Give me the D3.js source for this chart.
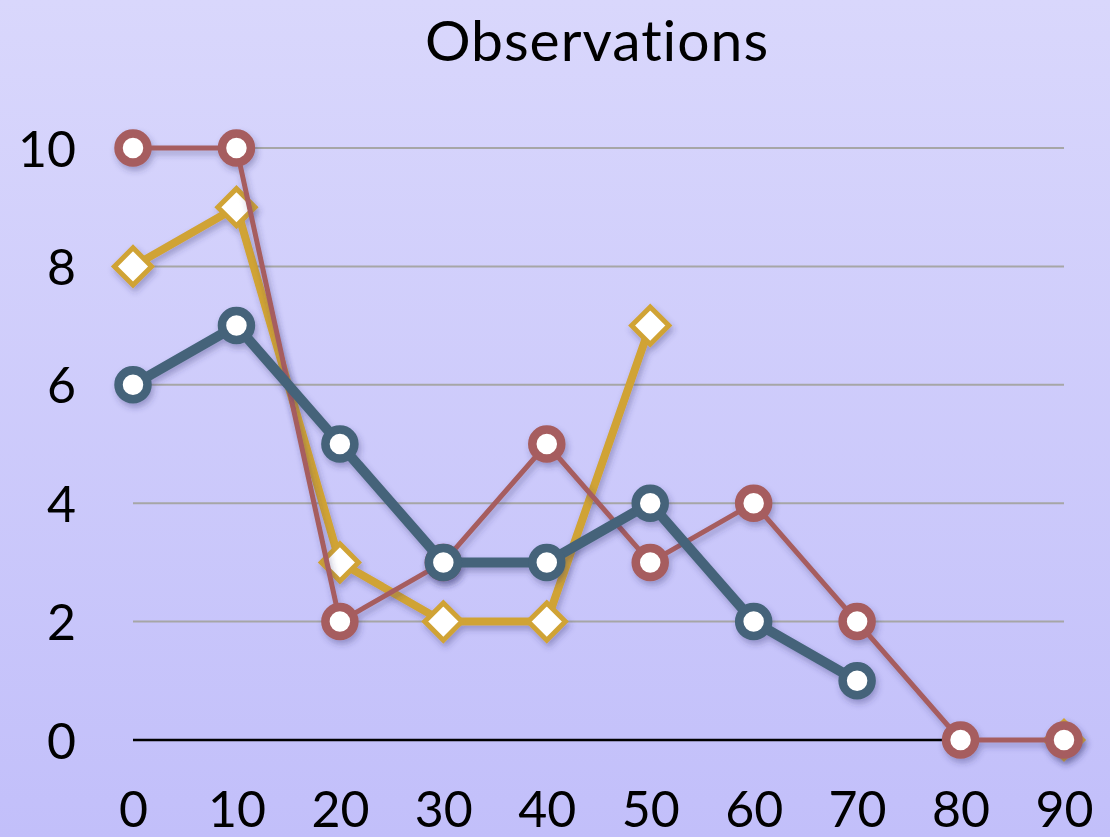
<!DOCTYPE html>
<html>
<head>
<meta charset="utf-8">
<script src="https://cdn.jsdelivr.net/npm/d3@7/dist/d3.min.js"></script>
<style>
  html, body { margin: 0; padding: 0; }
  body { width: 1110px; height: 837px; overflow: hidden; }
  text { font-family: "Lato", "Open Sans", sans-serif; fill: #000; }
</style>
</head>
<body>
<svg id="chart" width="1110" height="837"></svg>
<script>
// Observation counts sampled every 10 units
const categories = [0, 10, 20, 30, 40, 50, 60, 70, 80, 90];
const redSeries    = [10, 10, 2, 3, 5, 3, 4, 2, 0, 0];
const blueSeries   = [6, 7, 5, 3, 3, 4, 2, 1, null, null];
const yellowSeries = [8, 9, 3, 2, 2, 7, null, null, null, 0];
const yTicks = [0, 2, 4, 6, 8, 10];
const xTicks = categories;

const svg = d3.select("#chart");
const W = 1110, H = 837;

// Background gradient
const defs = svg.append("defs");
const grad = defs.append("linearGradient").attr("id", "bg")
  .attr("x1", 0).attr("y1", 0).attr("x2", 0).attr("y2", 1);
grad.append("stop").attr("offset", "0%").attr("stop-color", "#d9d7fc");
grad.append("stop").attr("offset", "100%").attr("stop-color", "#c2bffa");
svg.append("rect").attr("width", W).attr("height", H).attr("fill", "url(#bg)");

// Soft drop shadow for lines and markers
const f = defs.append("filter").attr("id", "shadow")
  .attr("x", "-20%").attr("y", "-20%").attr("width", "140%").attr("height", "140%");
f.append("feDropShadow").attr("dx", 2).attr("dy", 4).attr("stdDeviation", 3)
  .attr("flood-color", "#303070").attr("flood-opacity", 0.35);

const x = d3.scaleLinear().domain([0, 90]).range([133, 1064]);
const y = d3.scaleLinear().domain([0, 10]).range([740, 148]);

// Horizontal grid lines
svg.append("g").selectAll("line")
  .data(yTicks.filter(d => d > 0))
  .join("line")
  .attr("x1", x(0)).attr("x2", x(90))
  .attr("y1", d => y(d)).attr("y2", d => y(d))
  .attr("stroke", "#a6a6a6").attr("stroke-width", 2);

// Zero baseline
svg.append("line")
  .attr("x1", x(0)).attr("x2", x(80))
  .attr("y1", y(0)).attr("y2", y(0))
  .attr("stroke", "#000").attr("stroke-width", 2.5);

// Y axis labels
const yAxis = d3.axisLeft(y).tickValues(yTicks).tickSize(0).tickPadding(0);
const gy = svg.append("g").attr("transform", "translate(76,0)").call(yAxis);
gy.select(".domain").remove();
gy.selectAll("text").style("font-size", "50px").attr("dy", "0.36em")
  .style("font-family", "Lato, sans-serif");

// X axis labels
const xAxis = d3.axisBottom(x).tickValues(xTicks).tickSize(0).tickPadding(0);
const gx = svg.append("g").attr("transform", "translate(0,791)").call(xAxis);
gx.select(".domain").remove();
gx.selectAll("text").style("font-size", "50px").attr("dy", "0.72em")
  .style("font-family", "Lato, sans-serif");

// Title
svg.append("text").attr("x", 597).attr("y", 61).attr("text-anchor", "middle")
  .style("font-size", "57px").style("letter-spacing", "1px").text("Observations");

const series = [
  { values: yellowSeries, color: "#d0a334", width: 8, marker: "diamond" },
  { values: redSeries,    color: "#a65d5e", width: 5, marker: "circle" },
  { values: blueSeries,   color: "#44637a", width: 10, marker: "circle" }
];

const line = d3.line()
  .defined(d => d.v !== null)
  .x(d => x(d.c)).y(d => y(d.v));

series.forEach(s => {
  const pts = categories.map((c, i) => ({ c, v: s.values[i] }));
  const g = svg.append("g").attr("filter", "url(#shadow)");
  g.append("path").datum(pts).attr("d", line)
    .attr("fill", "none").attr("stroke", s.color)
    .attr("stroke-width", s.width).attr("stroke-linejoin", "round");
  const valid = pts.filter(d => d.v !== null);
  if (s.marker === "circle") {
    g.selectAll("circle").data(valid).join("circle")
      .attr("cx", d => x(d.c)).attr("cy", d => y(d.v)).attr("r", 14.5)
      .attr("fill", "#fff").attr("stroke", s.color).attr("stroke-width", 8.5);
  } else {
    const sym = d3.symbol().type(d3.symbolDiamond2).size(880);
    g.selectAll("path.m").data(valid).join("path").attr("class", "m")
      .attr("d", sym)
      .attr("transform", d => `translate(${x(d.c)},${y(d.v)})`)
      .attr("fill", "#fff").attr("stroke", s.color).attr("stroke-width", 5)
      .attr("stroke-linejoin", "miter");
  }
});
</script>
</body>
</html>
